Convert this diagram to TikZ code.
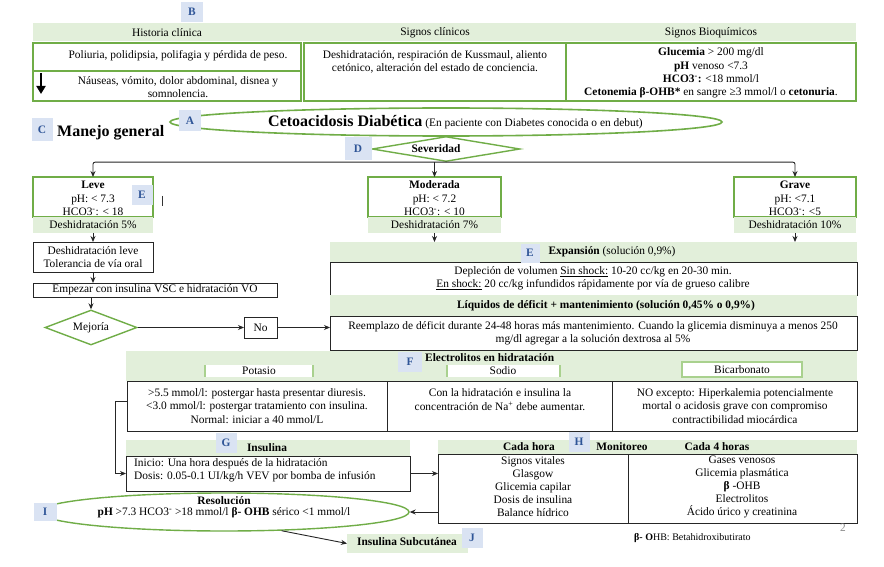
\documentclass[tikz,border=0pt]{standalone}
\usepackage{fontspec}
\setmainfont{Liberation Serif}
\usetikzlibrary{shapes.geometric,arrows.meta}
\definecolor{gborder}{HTML}{70AD47}
\definecolor{gfill}{HTML}{E2EFDA}
\definecolor{gside}{HTML}{A9D18E}
\definecolor{lblue}{HTML}{DAE3F3}
\definecolor{lbtext}{HTML}{2F5597}
\newcommand\RB[6]{\node[#2,anchor=north west,inner sep=0pt,outer sep=0pt,minimum width={(#5-#3)*1pt},minimum height={(#6-#4)*1pt}] (#1) at (#3,#4) {};}
\newcommand\HCO{HCO3\textsuperscript{-}}
\AtBeginDocument{\fontsize{11.4}{13.4}\selectfont}
\begin{document}
\begin{tikzpicture}[x=1pt,y=-1pt,
 gbox/.style={draw=gborder,line width=1.5pt,fill=white},
 gband/.style={fill=gfill,draw=none},
 kbox/.style={draw=black!85,line width=0.9pt,fill=white},
 txt/.style={inner sep=0pt,align=center},
 lbl/.style={fill=lblue,text=lbtext,font=\bfseries,inner sep=0pt,minimum width=21pt,minimum height=20pt},
 arr/.style={draw=black!85,line width=0.9pt,-{Stealth[length=6pt,width=5pt]}},
 sidebar/.style={draw=gside,line width=2.5pt},
]
\useasboundingbox[fill=white] (0,0) rectangle (884,567);

% ---------- top section
\RB{hhead}{gband}{33}{23}{301}{41}
\RB{shead}{gband}{301}{23}{566}{41}
\RB{bhead}{gband}{566}{23}{856}{41}
\node[txt] (thead) at (167,33) {Historia clínica};
\node[txt] (tshead) at (435,33) {Signos clínicos};
\node[txt] (tbhead) at (711,33) {Signos Bioquímicos};
\RB{hist1}{gbox}{33}{43}{301}{71}
\RB{hist2}{gbox}{33}{71}{301}{101}
\RB{sig}{gbox}{304}{43}{566}{101}
\RB{bio}{gbox}{566}{43}{856}{101}
\node[txt] (th1) at (178,56) {Poliuria, polidipsia, polifagia y pérdida de peso.};
\node[txt] (th2) at (178,87) {Náuseas, vómito, dolor abdominal, disnea y\\somnolencia.};
\node[txt] (tsig) at (435,62) {Deshidratación, respiración de Kussmaul, aliento\\cetónico, alteración del estado de conciencia.};
\node[txt] (tbio) at (711,73) {\textbf{Glucemia} > 200 mg/dl\\\textbf{pH} venoso <7.3\\\textbf{\HCO:} <18 mmol/l\\\textbf{Cetonemia β-OHB*} en sangre ≥3 mmol/l o \textbf{cetonuria}.};
\draw[line width=2.2pt,-{Triangle[length=8pt,width=9pt]}] (41,73) -- (41,94);
\node[lbl,minimum width=22pt] (lB) at (192,12) {B};

% ---------- title
\node[ellipse,draw=gborder,line width=1.6pt,minimum width=552pt,minimum height=28pt,inner sep=0pt] (cad) at (446,122) {};
\node[txt,anchor=west] (tcad) at (268,122) {{\fontsize{16}{18}\selectfont\bfseries Cetoacidosis Diabética} (En paciente con Diabetes conocida o en debut)};
\node[lbl,minimum width=22pt,minimum height=21pt] (lA) at (190,121) {A};
\node[lbl,minimum height=23pt] (lC) at (42,130) {C};
\node[txt,anchor=west,font=\fontsize{16}{18}\selectfont\bfseries] (tman) at (57,133) {Manejo general};

% ---------- severity
\node[diamond,draw=gborder,line width=1.4pt,minimum width=148pt,minimum height=25pt,inner sep=0pt,aspect=6] (sev) at (446,149) {};
\node[txt,font=\bfseries] (tsev) at (436,149) {Severidad};
\node[lbl,minimum width=27pt,minimum height=23pt] (lD) at (358,149) {D};

\RB{leve}{gbox}{33}{177}{153}{217}
\RB{leveb}{gband}{33}{217}{153}{233}
\node[txt] (tleve) at (93,198.5) {\textbf{Leve}\\pH: < 7.3\\\HCO: < 18};
\node[txt] (tleveb) at (93,225) {Deshidratación 5\%};
\RB{mod}{gbox}{368}{177}{501}{217}
\RB{modb}{gband}{368}{217}{501}{233}
\node[txt] (tmod) at (434.5,198.5) {\textbf{Moderada}\\pH: < 7.2\\\HCO: < 10};
\node[txt] (tmodb) at (434.5,225) {Deshidratación 7\%};
\RB{grave}{gbox}{734}{177}{856}{217}
\RB{graveb}{gband}{734}{217}{856}{233}
\node[txt] (tgrave) at (795,198.5) {\textbf{Grave}\\pH: <7.1\\\HCO: <5};
\node[txt] (tgraveb) at (795,225) {Deshidratación 10\%};
\node[lbl] (lE1) at (142,195) {E};
\draw[black!80,line width=0.7pt] (162,196) -- (162,206);

% ---------- left path
\RB{dl}{kbox}{33}{242}{153}{272}
\node[txt] (tdl) at (93,257) {Deshidratación leve\\Tolerancia de vía oral};
\RB{emp}{kbox}{33}{283}{277}{297}
\node[txt] (temp) at (155,290) {Empezar con insulina VSC e hidratación VO};
\node[diamond,draw=gborder,line width=1.4pt,minimum width=92pt,minimum height=35pt,inner sep=0pt,aspect=2.6] (mej) at (91,327.5) {Mejoría};
\RB{no}{kbox}{244}{317}{277}{338}
\node[txt] (tno) at (260.5,327.5) {No};

% ---------- right path
\RB{expb}{gband}{330}{242}{857}{262}
\node[txt] (texpb) at (612,252) {\textbf{Expansión} (solución 0,9\%)};
\RB{exp}{kbox}{330}{262}{857}{295}
\node[txt] (texp) at (593,278.5) {Depleción de volumen \underline{Sin shock:} 10-20 cc/kg en 20-30 min.\\\underline{En shock:} 20 cc/kg infundidos rápidamente por vía de grueso calibre};
\RB{liqb}{gband}{330}{295}{857}{316}
\node[txt,font=\bfseries] (tliqb) at (606,305.5) {Líquidos de déficit + mantenimiento (solución 0,45\% o 0,9\%)};
\RB{liq}{kbox}{330}{316}{857}{350}
\node[txt] (tliq) at (593,333.5) {Reemplazo de déficit durante 24-48 horas más mantenimiento. Cuando la glicemia disminuya a menos 250\\mg/dl agregar a la solución dextrosa al 5\%};
\node[lbl,minimum width=19pt,minimum height=19pt] (lE2) at (530,253) {E};

% ---------- electrolitos
\RB{elb}{gband}{126}{351}{857}{381}
\node[txt,anchor=west,font=\bfseries] (telb) at (425,358) {Electrolitos en hidratación};
\node[lbl,minimum width=24pt] (lF) at (410,362) {F};
\RB{potb}{fill=white}{205}{365}{313}{377}
\draw[sidebar] (potb.north west) -- (potb.south west) (potb.north east) -- (potb.south east);
\node[txt] (tpotb) at (259,371) {Potasio};
\RB{sodb}{fill=white}{447}{365}{560}{377}
\draw[sidebar] (sodb.north west) -- (sodb.south west) (sodb.north east) -- (sodb.south east);
\node[txt] (tsodb) at (503,371) {Sodio};
\RB{bicb}{fill=white,draw=gside,line width=1.2pt}{682}{362}{802}{377}
\draw[sidebar] (bicb.north west) -- (bicb.south west) (bicb.north east) -- (bicb.south east);
\node[txt] (tbicb) at (742,369.5) {Bicarbonato};
\RB{potc}{kbox}{127}{381}{387}{431}
\RB{sodc}{kbox}{387}{381}{612}{431}
\RB{bicc}{kbox}{612}{381}{857}{431}
\node[txt] (tpotc) at (257,406) {>5.5 mmol/l: postergar hasta presentar diuresis.\\<3.0 mmol/l: postergar tratamiento con insulina.\\Normal: iniciar a 40 mmol/L};
\node[txt] (tsodc) at (500,399.5) {Con la hidratación e insulina la\\concentración de Na\textsuperscript{+} debe aumentar.};
\node[txt] (tbicc) at (735,406) {NO excepto: Hiperkalemia potencialmente\\mortal o acidosis grave con compromiso\\contractibilidad miocárdica};

% ---------- insulina
\RB{insb}{gband}{126}{440}{410}{456}
\node[txt,font=\bfseries] (tinsb) at (267,448) {Insulina};
\RB{insc}{kbox}{126}{456}{410}{491}
\node[txt,anchor=west,align=left] (tinsc) at (134,470) {Inicio: Una hora después de la hidratación\\Dosis: 0.05-0.1 UI/kg/h VEV por bomba de infusión};
\node[lbl] (lG) at (226,443) {G};

% ---------- monitoreo
\RB{monb}{gband}{438}{440}{857}{454}
\node[txt,font=\bfseries] (tm1) at (529,447) {Cada hora};
\node[txt,font=\bfseries] (tm2) at (622,447) {Monitoreo};
\node[txt,font=\bfseries] (tm3) at (717,447) {Cada 4 horas};
\RB{monl}{kbox}{438}{454}{628}{523}
\RB{monr}{kbox}{628}{454}{857}{523}
\node[txt,font=\fontsize{11.4}{13}\selectfont] (tmonl) at (533,487) {Signos vitales\\Glasgow\\Glicemia capilar\\Dosis de insulina\\Balance hídrico};
\node[txt,font=\fontsize{11.4}{13}\selectfont] (tmonr) at (742,487) {Gases venosos\\Glicemia plasmática\\\textbf{β} -OHB\\Electrolitos\\Ácido úrico y creatinina};
\node[lbl] (lH) at (579,442) {H};

% ---------- resolucion
\node[ellipse,draw=gborder,line width=1.4pt,minimum width=370pt,minimum height=38pt,inner sep=0pt] (res) at (224,512) {};
\node[txt] (tres) at (224,507.5) {\textbf{Resolución}\\[-2pt]\textbf{pH} >7.3 \HCO{} >18 mmol/l \textbf{β- OHB} sérico <1 mmol/l};
\node[lbl,minimum width=23pt,minimum height=18pt] (lI) at (45,512) {I};
\RB{insub}{gband}{347}{534}{468}{553}
\node[txt,font=\bfseries] (tinsub) at (407,542) {Insulina Subcutánea};
\node[lbl] (lJ) at (472,538) {J};

\node[txt,anchor=west,font=\fontsize{10}{12}\selectfont] (foot) at (634,538) {\textbf{β- O}HB: Betahidroxibutirato};
\node[txt,text=black!45] (pg) at (843,528) {2};

% ---------- connectors
\draw[arr,rounded corners=2pt] (sev.south) -| (leve.north);
\draw[arr,rounded corners=2pt] (sev.south) -| (grave.north);
\draw[arr] (mod.north |- sev.south) -- (mod.north);
\draw[arr] (leveb.south) -- (dl.north);
\draw[arr] (dl.south) -- (dl.south |- emp.north);
\draw[arr] (mej.north |- emp.south) -- (mej.north);
\draw[arr] (mej.east) -- (no.west);
\draw[arr] (no.east) -- (no.east -| liq.west);
\draw[arr] (modb.south) -- (modb.south |- expb.north);
\draw[arr] (graveb.south) -- (graveb.south |- expb.north);
\draw[arr] ([yshift=5pt]potc.west) -- ++(-12,0) |- (insc.west);
\draw[arr] (insc.east) -- (insc.east -| monl.west);
\draw[arr] (monl.west |- res.east) -- (res.east);
\draw[arr] (res.-18) -- (insub.west);
\end{tikzpicture}
\end{document}
